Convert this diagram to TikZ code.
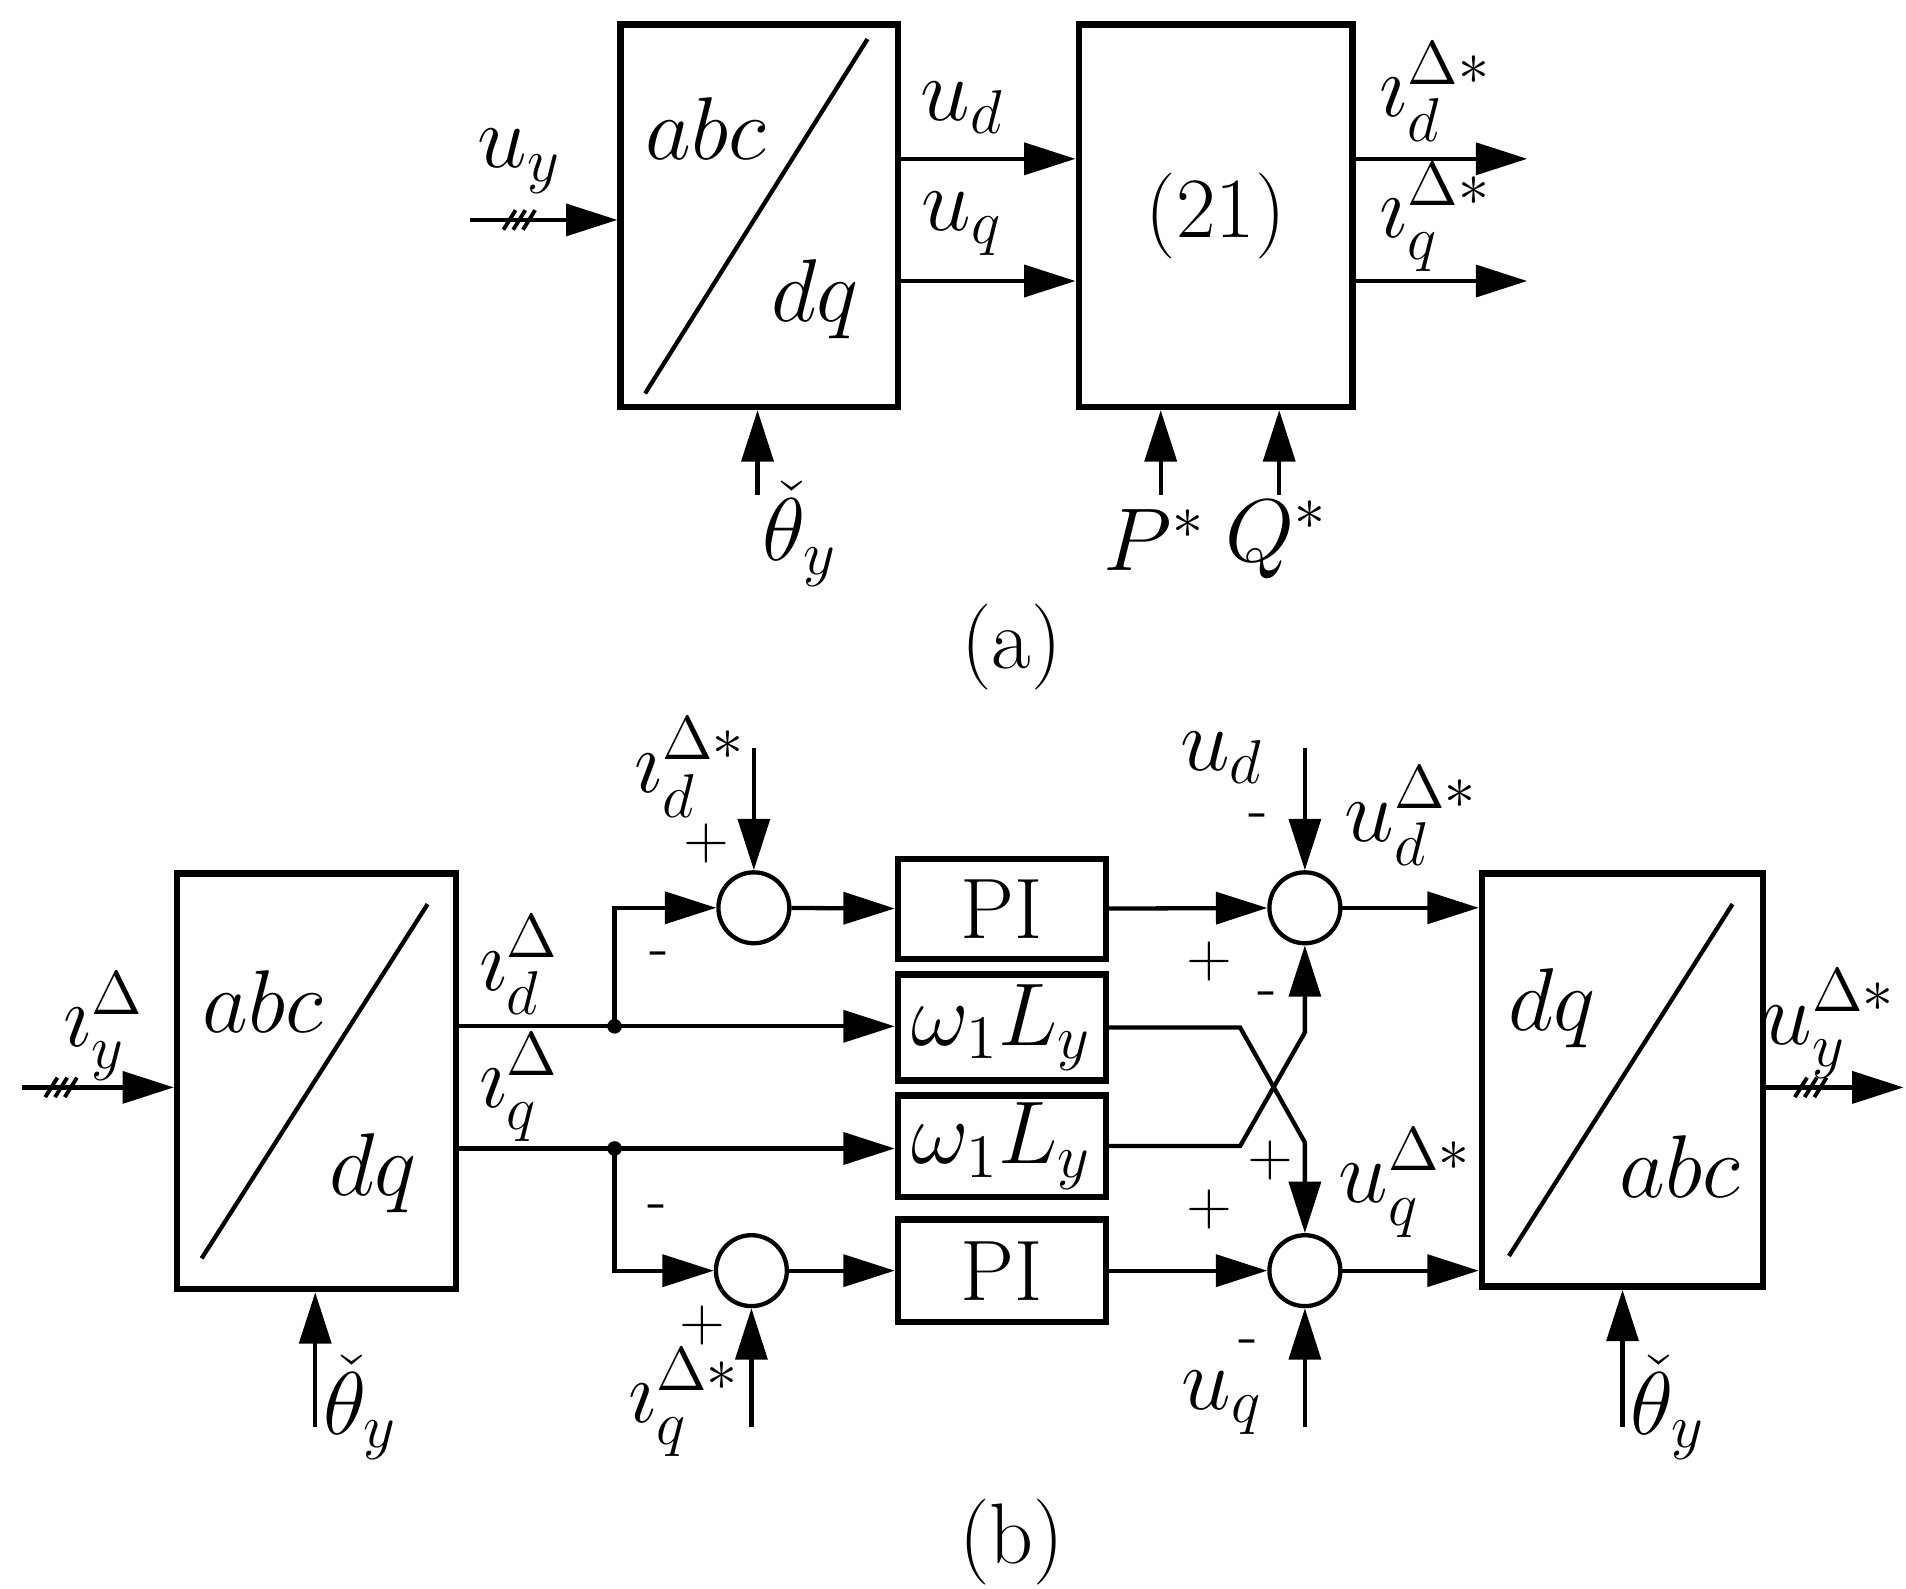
\documentclass[tikz,border=0pt]{standalone}
\usepackage{amsmath}
\usetikzlibrary{arrows.meta,positioning,calc}
\begin{document}
\begin{tikzpicture}[
    x=0.01cm, y=-0.01cm,
    every node/.style={font=\fontsize{20}{24}\selectfont},
    blk/.style={rectangle, draw, line width=1.5pt, inner sep=0pt},
    sum/.style={circle, draw, line width=1pt, minimum size=0.58cm, inner sep=0pt},
    sig/.style={-{Triangle[length=0.42cm,width=0.26cm]}, line width=1pt},
    wire/.style={line width=1pt},
    sgn/.style={font=\fontsize{14}{16}\selectfont}
]
    \useasboundingbox (0,0) rectangle (1560,1300);
    \newcommand{\slashes}[2]{\foreach \s in {-8,0,8} \draw[line width=0.9pt] ($(#1,#2)+(\s-5,8)$) -- ($(#1,#2)+(\s+5,-8)$);}

    % (a) transformation
    \node[blk, minimum width=2.27cm, minimum height=3.13cm] (box1) at (621.5,176.5) {};
    \draw[wire] (528,322) -- (710,32);
    \node at (578,105) {$abc$};
    \node at (667,245) {$dq$};
    \coordinate (uyin) at (385,180);
    \draw[sig] (uyin) -- (box1.west |- uyin);
    \slashes{425}{180}
    \node at (425,132) {$u_y$};
    \coordinate (tha) at (620,405);
    \draw[sig] (tha) -- (box1.south -| tha);
    \node at (655,437) {$\check{\theta}_y$};

    % (a) equation block
    \node[blk, minimum width=2.24cm, minimum height=3.13cm] (box2) at (995,176.5) {(21)};
    \coordinate (ud) at (0,130);
    \coordinate (uq) at (0,230);
    \draw[sig] (box1.east |- ud) -- (box2.west |- ud) node[pos=0.35, above=2pt] {$u_d$};
    \draw[sig] (box1.east |- uq) -- (box2.west |- uq) node[pos=0.35, above=2pt] {$u_q$};
    \coordinate (idout) at (1250,130);
    \coordinate (iqout) at (1250,230);
    \draw[sig] (box2.east |- idout) -- (idout);
    \draw[sig] (box2.east |- iqout) -- (iqout);
    \node at (1175,75) {$\imath_d^{\Delta*}$};
    \node at (1175,178) {$\imath_q^{\Delta*}$};
    \coordinate (pin) at (950,405);
    \coordinate (qin) at (1047,405);
    \draw[sig] (pin) -- (box2.south -| pin);
    \draw[sig] (qin) -- (box2.south -| qin);
    \node at (945,442) {$P^*$};
    \node at (1045,442) {$Q^*$};
    \node (capa) at (828,530) {(a)};

    % (b) abc/dq
    \node[blk, minimum width=2.28cm, minimum height=3.40cm] (boxL) at (259,885) {};
    \draw[wire] (165,1030) -- (350,740);
    \node at (215,820) {$abc$};
    \node at (305,960) {$dq$};
    \coordinate (iyin) at (18,890);
    \draw[sig] (iyin) -- (boxL.west |- iyin);
    \slashes{50}{890}
    \node at (85,840) {$\imath_y^{\Delta}$};
    \coordinate (thL) at (258,1168);
    \draw[sig] (thL) -- (boxL.south -| thL);
    \node at (295,1152) {$\check{\theta}_y$};

    % (b) blocks
    \node[blk, minimum width=1.70cm, minimum height=0.82cm] (pi1) at (820,744) {PI};
    \node[blk, minimum width=1.70cm, minimum height=0.87cm] (wl1) at (820,841) {$\omega_1 L_y$};
    \node[blk, minimum width=1.70cm, minimum height=0.83cm] (wl2) at (820,938) {$\omega_1 L_y$};
    \node[blk, minimum width=1.70cm, minimum height=0.84cm] (pi2) at (820,1040) {PI};
    \node[sum] (s1) at (617,743) {};
    \node[sum] (s2) at (615,1040) {};
    \node[sum] (s3) at (1068,743) {};
    \node[sum] (s4) at (1068,1040) {};

    % d and q currents
    \coordinate (jd) at (503,840);
    \coordinate (jq) at (503,940);
    \draw[sig] (boxL.east |- jd) -- (wl1.west |- jd);
    \draw[sig] (boxL.east |- jq) -- (wl2.west |- jq);
    \fill (jd) circle (6);
    \fill (jq) circle (6);
    \node at (425,790) {$\imath_d^{\Delta}$};
    \node at (425,890) {$\imath_q^{\Delta}$};
    \draw[sig] (jd) |- (s1.west);
    \draw[sig] (jq) |- (s2.west);
    \node[sgn] at (540,785) {-};
    \node[sgn] at (538,992) {-};

    % references
    \coordinate (idref) at (617,612);
    \coordinate (iqref) at (615,1168);
    \draw[sig] (idref) -- (s1.north);
    \draw[sig] (iqref) -- (s2.south);
    \node at (565,628) {$\imath_d^{\Delta*}$};
    \node at (560,1148) {$\imath_q^{\Delta*}$};
    \node[sgn] at (578,690) {+};
    \node[sgn] at (575,1085) {+};
    \draw[sig] (s1) -- (pi1);
    \draw[sig] (s2) -- (pi2);

    % voltage summing
    \draw[sig] (pi1) -- (s3);
    \draw[sig] (pi2) -- (s4);
    \node[sgn] at (990,787) {+};
    \node[sgn] at (990,990) {+};
    \draw[sig] (wl1.east) -- (1015,841) -- (1068,935) -- (s4.north);
    \draw[sig] (wl2.east) -- (1015,938) -- (1068,845) -- (s3.south);
    \node[sgn] at (1037,818) {-};
    \node[sgn] at (1040,950) {+};
    \coordinate (udin) at (1068,612);
    \coordinate (uqin) at (1068,1168);
    \draw[sig] (udin) -- (s3.north);
    \draw[sig] (uqin) -- (s4.south);
    \node at (1000,620) {$u_d$};
    \node at (1000,1148) {$u_q$};
    \node[sgn] at (1030,672) {-};
    \node[sgn] at (1022,1103) {-};
    \node at (1155,668) {$u_d^{\Delta*}$};
    \node at (1150,968) {$u_q^{\Delta*}$};

    % (b) dq/abc
    \node[blk, minimum width=2.30cm, minimum height=3.38cm] (boxR) at (1328,884) {};
    \draw[wire] (1235,1028) -- (1418,740);
    \node at (1270,825) {$dq$};
    \node at (1375,955) {$abc$};
    \draw[sig] (s3) -- (boxR.west |- s3);
    \draw[sig] (s4) -- (boxR.west |- s4);
    \coordinate (uyout) at (1558,890);
    \draw[sig] (boxR.east |- uyout) -- (uyout);
    \slashes{1482}{890}
    \node at (1497,838) {$u_y^{\Delta*}$};
    \coordinate (thR) at (1328,1168);
    \draw[sig] (thR) -- (boxR.south -| thR);
    \node at (1365,1152) {$\check{\theta}_y$};
    \node (capb) at (828,1262) {(b)};
\end{tikzpicture}
\end{document}
